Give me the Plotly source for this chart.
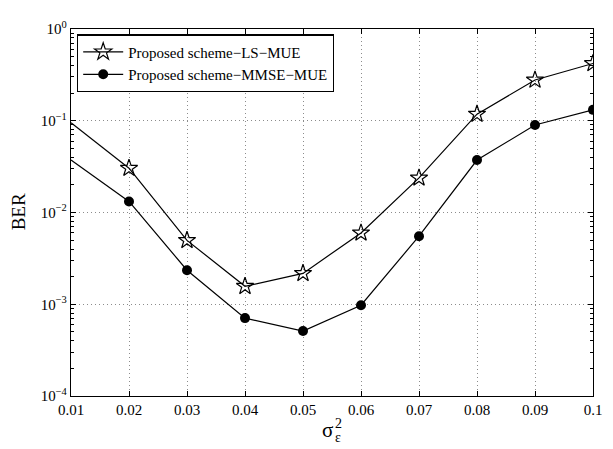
import plotly.graph_objects as go

x_vals = [0.01, 0.02, 0.03, 0.04, 0.05, 0.06, 0.07, 0.08, 0.09, 0.1]
ber_ls = [0.095, 0.0304, 0.00497, 0.00157, 0.00217, 0.00599, 0.0238, 0.118, 0.278, 0.421]
ber_mmse = [0.0373, 0.0132, 0.00235, 0.000706, 0.00051, 0.000977, 0.00552, 0.0373, 0.0898, 0.1315]
names = ["Proposed scheme\u2212LS\u2212MUE", "Proposed scheme\u2212MMSE\u2212MUE"]
x_ticks = [0.01, 0.02, 0.03, 0.04, 0.05, 0.06, 0.07, 0.08, 0.09, 0.1]
x_ticktext = ["0.01", "0.02", "0.03", "0.04", "0.05", "0.06", "0.07", "0.08", "0.09", "0.1"]
y_ticks = [1e-4, 1e-3, 1e-2, 1e-1, 1]
y_ticktext = ["10<sup>\u22124</sup>", "10<sup>\u22123</sup>", "10<sup>\u22122</sup>", "10<sup>\u22121</sup>", "10<sup>0</sup>"]

FONT = "Liberation Serif"
# the page body has an 8px margin: the figure starts at (8, 8) in the window
OFF = 8
W, H = 613 - OFF, 449 - OFF
L, R, T, B = 71 - OFF, 19, 18.5 - OFF, 53
pw = W - L - R
ph = H - T - B

minor_vals = [m * 10 ** e for e in range(-4, 0) for m in range(2, 10)]

fig = go.Figure()
for ys in (ber_ls, ber_mmse):
    fig.add_trace(go.Scatter(x=x_vals[:2], y=ys[:2], mode="lines",
                             line=dict(color="black", width=1.2),
                             showlegend=False, hoverinfo="skip"))
fig.add_trace(go.Scatter(x=x_vals[1:], y=ber_ls[1:], mode="lines+markers", name=names[0],
                         line=dict(color="black", width=1.2),
                         marker=dict(symbol="star-open", size=13, color="black",
                                     line=dict(color="black", width=1.2))))
fig.add_trace(go.Scatter(x=x_vals[1:], y=ber_mmse[1:], mode="lines+markers", name=names[1],
                         line=dict(color="black", width=1.2),
                         marker=dict(symbol="circle", size=10, color="black")))

axis_common = dict(
    showline=True, linecolor="black", linewidth=1.3, mirror="allticks",
    ticks="inside", ticklen=5, tickcolor="black", tickwidth=1,
    showgrid=True, gridcolor="#8c8c8c", griddash="1px,3px", gridwidth=1,
    zeroline=False, tickfont=dict(family=FONT, size=15, color="black"),
    layer="above traces",
)

fig.update_xaxes(range=[0.01, 0.1], tickmode="array", tickvals=x_ticks, ticktext=x_ticktext,
                 **axis_common)
fig.update_yaxes(type="log", range=[-4, 0], tickmode="array", tickvals=y_ticks, ticktext=y_ticktext,
                 minor=dict(tickmode="array", tickvals=minor_vals, ticks="inside", ticklen=3,
                            tickcolor="black", tickwidth=1, showgrid=False),
                 **axis_common)

def px_x(p):
    return (p - OFF - L) / pw

def px_y(p):
    return (H - B - (p - OFF)) / ph

annos = [
    dict(text="BER", x=px_x(18), y=px_y(207), textangle=-90, size=19),
    dict(text="\u03c3", x=px_x(328), y=px_y(431), size=21),
    dict(text="2", x=px_x(339), y=px_y(424), size=14),
    dict(text="\u03b5", x=px_x(339), y=px_y(439), size=14),
]
for a in annos:
    fig.add_annotation(xref="paper", yref="paper", showarrow=False, xanchor="center", yanchor="middle",
                       x=a["x"], y=a["y"], text=a["text"], textangle=a.get("textangle", 0),
                       borderpad=0,
                       font=dict(family=FONT, color="black", size=a["size"]))

fig.update_layout(
    width=W, height=H,
    margin=dict(l=L, r=R, t=T, b=B),
    paper_bgcolor="white", plot_bgcolor="white",
    font=dict(family=FONT, color="black"),
    showlegend=True,
    legend=dict(x=px_x(77), y=px_y(24), xanchor="left", yanchor="top",
                bgcolor="white", bordercolor="black", borderwidth=1.2,
                font=dict(family=FONT, size=15, color="black"),
                tracegroupgap=0, itemwidth=40),
)

fig.write_html("out.html")
